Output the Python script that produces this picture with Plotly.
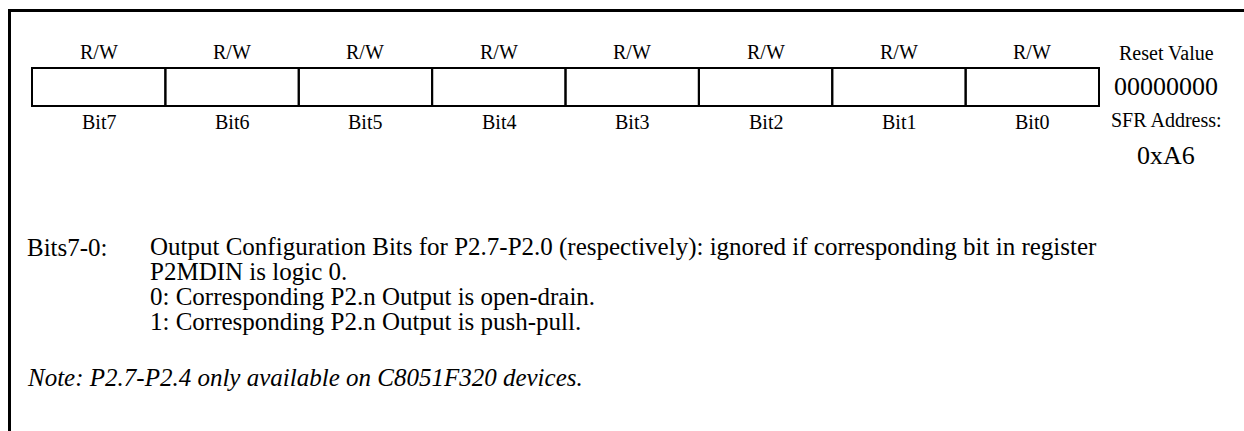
import plotly.graph_objects as go

# ---- data ----
bit_names = ["Bit7", "Bit6", "Bit5", "Bit4", "Bit3", "Bit2", "Bit1", "Bit0"]
bit_access = ["R/W", "R/W", "R/W", "R/W", "R/W", "R/W", "R/W", "R/W"]
reset_label = "Reset Value"
reset_value = "00000000"
sfr_label = "SFR Address:"
sfr_address = "0xA6"
desc_field = "Bits7-0:"
desc_lines = [
    "Output Configuration Bits for P2.7-P2.0 (respectively): ignored if corresponding bit in register",
    "P2MDIN is logic 0.",
    "0: Corresponding P2.n Output is open-drain.",
    "1: Corresponding P2.n Output is push-pull.",
]
note_text = "Note: P2.7-P2.4 only available on C8051F320 devices."

W, H = 1244, 431
FONT = "'Liberation Serif', 'Times New Roman', serif"

fig = go.Figure()
fig.add_trace(go.Scatter(x=[0, W], y=[0, H], mode="markers",
                         marker=dict(opacity=0), hoverinfo="skip", showlegend=False))

shapes = []
annots = []

# frame
shapes.append(dict(type="line", x0=8, x1=W, y0=10.5, y1=10.5, line=dict(color="black", width=3)))
shapes.append(dict(type="line", x0=9.5, x1=9.5, y0=9, y1=H, line=dict(color="black", width=3)))

# register cells
left, right = 32, 1099
top, bottom = 68, 106
n = len(bit_names)
cw = (right - left) / n
for i, (name, acc) in enumerate(zip(bit_names, bit_access)):
    x0 = left + i * cw
    x1 = x0 + cw
    shapes.append(dict(type="rect", x0=x0, x1=x1, y0=top, y1=bottom,
                       line=dict(color="black", width=2), fillcolor="rgba(0,0,0,0)"))
    cx = (x0 + x1) / 2
    annots.append(dict(x=cx, y=52, text=acc, font=dict(size=20)))
    annots.append(dict(x=cx, y=122, text=name, font=dict(size=20)))

rc = 1166
annots.append(dict(x=rc, y=53, text=reset_label, font=dict(size=20)))
annots.append(dict(x=rc, y=86, text=reset_value, font=dict(size=26)))
annots.append(dict(x=rc, y=120, text=sfr_label, font=dict(size=20)))
annots.append(dict(x=rc, y=155, text=sfr_address, font=dict(size=26)))

annots.append(dict(x=25, y=247, text=desc_field, xanchor="left", font=dict(size=25)))
for j, line in enumerate(desc_lines):
    annots.append(dict(x=148, y=247 + j * 24.7, text=line, xanchor="left", font=dict(size=25)))
annots.append(dict(x=25, y=377, text="<i>" + note_text + "</i>", xanchor="left", font=dict(size=25)))

for a in annots:
    a.setdefault("xanchor", "center")
    a["yanchor"] = "middle"
    a["showarrow"] = False
    a["xref"] = "x"
    a["yref"] = "y"
    a["font"].update(family=FONT, color="black")

fig.update_layout(
    width=W, height=H,
    margin=dict(l=0, r=0, t=0, b=0),
    paper_bgcolor="white", plot_bgcolor="white",
    xaxis=dict(range=[0, W], visible=False, fixedrange=True),
    yaxis=dict(range=[H, 0], visible=False, fixedrange=True),
    shapes=shapes, annotations=annots, showlegend=False,
)
fig.write_html("out.html", config={"displayModeBar": False},
               post_script="document.body.style.margin='0';document.body.style.overflow='hidden';")
